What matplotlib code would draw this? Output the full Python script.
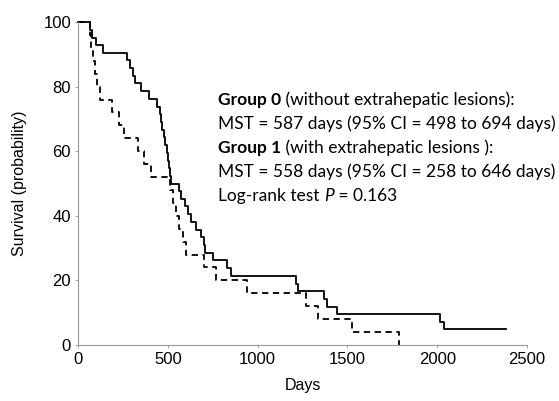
import matplotlib
matplotlib.use("Agg")
import matplotlib.pyplot as plt

# Group 0 (solid): step times (days) and survival (%)
t0 = [0, 65, 80, 100, 140, 272, 290, 305, 320, 350, 395, 440, 455, 462, 470,
      478, 486, 494, 500, 506, 512, 520, 560, 575, 594, 610, 631, 659, 687, 700,
      706, 752, 830, 850, 1212, 1223, 1369, 1386, 1443, 2014, 2039, 2385]
s0 = [100, 97.6, 95.2, 92.9, 90.5, 88.1, 85.7, 83.3, 81.0, 78.6, 76.2, 73.8, 71.4, 69.0, 66.7,
      64.3, 61.9, 59.5, 57.1, 54.8, 52.4, 50.0, 47.6, 45.2, 42.9, 40.5, 38.1, 35.7, 33.3, 31.0,
      28.6, 26.2, 23.8, 21.4, 19.0, 16.7, 14.3, 11.9, 9.5, 7.1, 4.8, 4.8]

# Group 1 (dashed)
t1 = [0, 67, 75, 85, 95, 105, 120, 187, 230, 255, 335, 370, 405, 515, 528, 545, 565,
      585, 600, 700, 770, 940, 1270, 1338, 1526, 1788]
s1 = [100, 96, 92, 88, 84, 80, 76, 72, 68, 64, 60, 56, 52, 48, 44, 40, 36,
      32, 28, 24, 20, 16, 12, 8, 4, 0]

xticks = [0, 500, 1000, 1500, 2000, 2500]
yticks = [0, 20, 40, 60, 80, 100]

plt.rcParams['font.family'] = ['Liberation Sans', 'DejaVu Sans']

fig = plt.figure(figsize=(5.59, 4.01), dpi=100)
ax = fig.add_axes([78/559, 1-345/401, (527-78)/559, (345-22)/401])

ax.step(t0, s0, where='post', color='black', lw=1.3, clip_on=False)
ax.step(t1, s1, where='post', color='black', lw=1.3, ls=(0, (3.5, 2.5)), clip_on=False)

ax.set_xlim(0, 2500)
ax.set_ylim(0, 100)
ax.set_xticks(xticks)
ax.set_yticks(yticks)
ax.tick_params(labelsize=12, length=2, width=0.6, color='#999999', pad=3)
for sp in ['top', 'right']:
    ax.spines[sp].set_visible(False)
for sp in ['left', 'bottom']:
    ax.spines[sp].set_linestyle((0, (1, 1)))
    ax.spines[sp].set_color('#999999')
    ax.spines[sp].set_linewidth(0.8)

ax.set_xlabel('Days', fontsize=11.5, labelpad=8)
ax.set_ylabel('Survival (probability)', fontsize=11.5, labelpad=12)

# annotation text, built from pieces
tfont = 'Lato'
fs = 12.5
lines = [
    [('Group 0', 'bold', 'normal'), (' (without extrahepatic lesions):', 'normal', 'normal')],
    [('MST = 587 days (95% CI = 498 to 694 days)', 'normal', 'normal')],
    [('Group 1', 'bold', 'normal'), (' (with extrahepatic lesions ):', 'normal', 'normal')],
    [('MST = 558 days (95% CI = 258 to 646 days)', 'normal', 'normal')],
    [('Log-rank test ', 'normal', 'normal'), ('P', 'normal', 'italic'), (' = 0.163', 'normal', 'normal')],
]
fig.canvas.draw()
renderer = fig.canvas.get_renderer()
x_start = 218
y_px = [100, 124, 148, 172, 196]
for line, yp in zip(lines, y_px):
    x = x_start
    for txt, wt, st in line:
        t = fig.text(x/559, 1-yp/401, txt, fontsize=fs, fontweight=wt, fontstyle=st,
                     family=tfont, va='center', ha='left')
        bb = t.get_window_extent(renderer)
        x += bb.width

fig.savefig('out.png', dpi=100)
